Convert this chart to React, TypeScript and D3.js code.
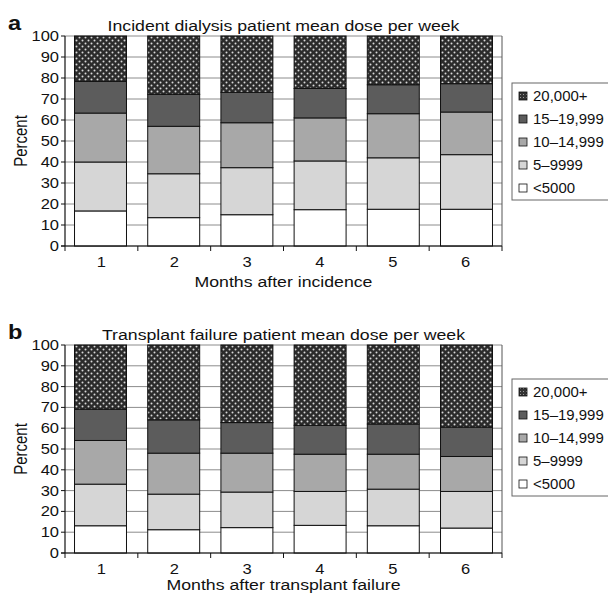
import * as d3 from "d3";

// Epo mean dose per week, % of patients by month
const months = ["1", "2", "3", "4", "5", "6"];
const doseBands = ["<5000", "5–9999", "10–14,999", "15–19,999", "20,000+"];
const bandFills = ["#ffffff", "#d6d6d6", "#a8a8a8", "#5c5c5c", "url(#dots)"];

const incidentPct = [
  [16.7, 13.5, 14.9, 17.3, 17.5, 17.5],
  [23.3, 20.9, 22.4, 23.2, 24.5, 26.0],
  [23.3, 22.6, 21.4, 20.5, 21.0, 20.3],
  [15.1, 15.2, 14.5, 14.0, 13.8, 13.5],
  [21.6, 27.8, 26.8, 25.0, 23.2, 22.7],
];
const transplantPct = [
  [13.1, 11.2, 12.2, 13.3, 13.1, 12.0],
  [20.0, 17.1, 17.1, 16.3, 17.6, 17.6],
  [21.0, 19.7, 18.7, 17.9, 16.8, 16.8],
  [15.0, 16.0, 14.7, 13.9, 14.5, 14.1],
  [30.9, 36.0, 37.3, 38.6, 38.0, 39.5],
];
const yTicks = d3.range(0, 101, 10);

const FONT = "'Liberation Sans', Arial, Helvetica, sans-serif";
const SX = 1.18; // the scan is stretched sideways

function Txt({ x, y, size, anchor = "start", weight = "normal", rotate = 0, sx = SX, children }) {
  return (
    <text
      transform={`translate(${x},${y}) rotate(${rotate}) scale(${rotate ? 1 : sx},${rotate ? sx : 1})`}
      fontSize={size}
      fontFamily={FONT}
      fontWeight={weight}
      textAnchor={anchor}
      fill="#111"
    >
      {children}
    </text>
  );
}

function Panel({ letter, title, xTitle, pct, top, bottom, legendTop, xTitleDy }) {
  const left = 65, right = 502;
  const rows = months.map((m, i) => {
    const r: any = { month: m };
    doseBands.forEach((b, k) => (r[b] = pct[k][i]));
    return r;
  });
  const series = d3.stack().keys(doseBands)(rows);
  const x = d3.scaleBand().domain(months).range([left, right]).paddingInner(0.29).paddingOuter(0.13);
  const y = d3.scaleLinear().domain([0, 100]).range([bottom, top]);
  const div = (right - left) / months.length;

  return (
    <g>
      <Txt x={8} y={top - 6} size={20} weight="bold">{letter}</Txt>
      <Txt x={(left + right) / 2} y={top - 5} size={15} anchor="middle">{title}</Txt>

      {/* grid */}
      {yTicks.map((t) => (
        <line key={t} x1={left} x2={right} y1={y(t)} y2={y(t)} stroke="#8c8c8c" strokeWidth={1} />
      ))}
      <line x1={right} x2={right} y1={top} y2={bottom} stroke="#555" strokeWidth={1} />

      {/* bars */}
      {series.map((s, k) => (
        <g key={s.key}>
          {s.map((d, i) => (
            <rect
              key={i}
              x={x(months[i])}
              width={x.bandwidth()}
              y={y(d[1])}
              height={y(d[0]) - y(d[1])}
              fill={bandFills[k]}
              stroke="#111"
              strokeWidth={1}
            />
          ))}
        </g>
      ))}

      {/* y axis */}
      <line x1={left} x2={left} y1={top} y2={bottom} stroke="#111" strokeWidth={1.2} />
      {yTicks.map((t) => (
        <g key={t}>
          <line x1={left - 4} x2={left} y1={y(t)} y2={y(t)} stroke="#111" />
          <Txt x={left - 6} y={y(t) + 5} size={14} anchor="end">{t}</Txt>
        </g>
      ))}
      <Txt x={27} y={(top + bottom) / 2} size={15} anchor="middle" rotate={-90}>Percent</Txt>

      {/* x axis */}
      <line x1={left - 4} x2={right} y1={bottom} y2={bottom} stroke="#111" strokeWidth={1.2} />
      {d3.range(months.length + 1).map((i) => (
        <line key={i} x1={left + i * div} x2={left + i * div} y1={bottom} y2={bottom + 5} stroke="#111" />
      ))}
      {months.map((m, i) => (
        <Txt key={m} x={left + (i + 0.5) * div} y={bottom + 21} size={14} anchor="middle">{m}</Txt>
      ))}
      <Txt x={(left + right) / 2} y={bottom + xTitleDy} size={15} anchor="middle">{xTitle}</Txt>

      {/* legend */}
      <rect x={512} y={legendTop} width={110} height={117} fill="#fff" stroke="#666" />
      {doseBands.slice().reverse().map((b, j) => {
        const k = doseBands.length - 1 - j;
        const cy = legendTop + 13 + j * 23;
        return (
          <g key={b}>
            <rect x={519} y={cy - 4} width={8} height={8} fill={bandFills[k] === "url(#dots)" ? "url(#dotsSmall)" : bandFills[k]} stroke="#111" strokeWidth={0.8} />
            <Txt x={533} y={cy + 5} size={14} sx={1.07}>{b}</Txt>
          </g>
        );
      })}
    </g>
  );
}

export default function App() {
  return (
    <svg width={608} height={595} style={{ position: "absolute", left: 0, top: 0, background: "#fff" }}>
      <defs>
        <pattern id="dots" width={6} height={6} patternUnits="userSpaceOnUse">
          <rect width={6} height={6} fill="#2b2b2b" />
          <circle cx={1.5} cy={1.5} r={1} fill="#d8d8d8" />
          <circle cx={4.5} cy={4.5} r={1} fill="#d8d8d8" />
        </pattern>
        <pattern id="dotsSmall" width={3} height={3} patternUnits="userSpaceOnUse">
          <rect width={3} height={3} fill="#333" />
          <rect x={1} y={1} width={1} height={1} fill="#999" />
        </pattern>
      </defs>
      <Panel
        letter="a"
        title="Incident dialysis patient mean dose per week"
        xTitle="Months after incidence"
        pct={incidentPct}
        top={36}
        bottom={246}
        legendTop={83}
        xTitleDy={41}
      />
      <Panel
        letter="b"
        title="Transplant failure patient mean dose per week"
        xTitle="Months after transplant failure"
        pct={transplantPct}
        top={345}
        bottom={553}
        legendTop={379}
        xTitleDy={37}
      />
    </svg>
  );
}
